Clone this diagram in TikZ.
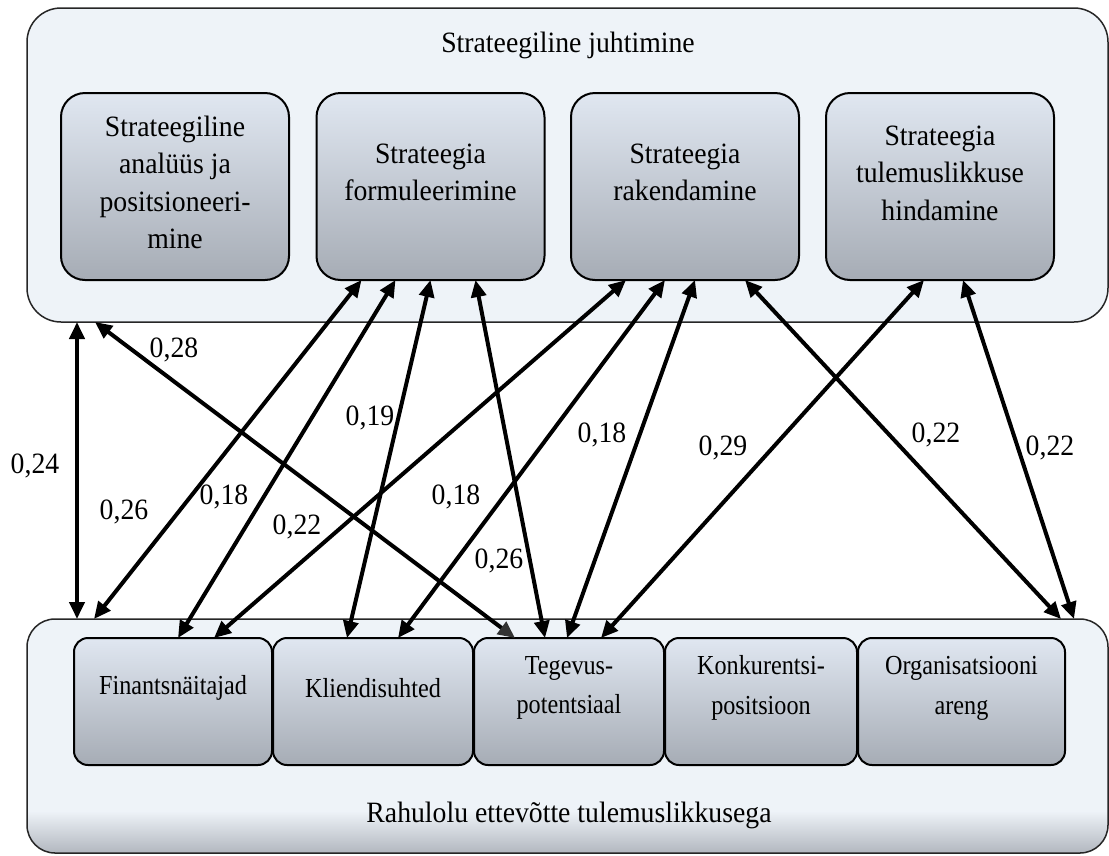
\documentclass[tikz,border=0pt]{standalone}
\usepackage{fontspec}
\setmainfont{Liberation Serif}[FakeStretch=0.94]
\newfontfamily\condserif{Liberation Serif}[FakeStretch=0.88]
\usetikzlibrary{arrows.meta}

\definecolor{panelfill}{HTML}{EEF3F8}
\definecolor{panelgray}{HTML}{B2B7BF}
\definecolor{boxtop}{HTML}{E0E7F1}
\definecolor{boxbot}{HTML}{A6ACB5}

% light panel that turns grey only near its lower edge
\pgfdeclareverticalshading{panelshade}{100bp}{color(0bp)=(panelgray); color(25bp)=(panelgray); color(34bp)=(panelfill); color(100bp)=(panelfill)}

\tikzset{
  panel/.style={draw=black!85, line width=1.5pt, outer sep=0pt, inner sep=0pt, minimum width=1081pt},
  stagebox/.style={draw=black, line width=2pt, rounded corners=24pt, top color=boxtop, bottom color=boxbot,
                   minimum width=228pt, minimum height=187pt, outer sep=0pt, inner sep=0pt},
  areabox/.style={draw=black, line width=2pt, rounded corners=14pt, top color=boxtop, bottom color=boxbot,
                  minimum height=127pt, outer sep=0pt, inner sep=0pt},
  toptext/.style={font=\fontsize{29.5}{37.5}\selectfont, align=center, inner sep=0pt},
  bottext/.style={font=\condserif\fontsize{27.5}{39.5}\selectfont, align=center, inner sep=0pt},
  paneltext/.style={font=\fontsize{29.5}{34}\selectfont, inner sep=0pt},
  weight/.style={font=\fontsize{29.5}{34}\selectfont, inner sep=0pt},
  link/.style={line width=4pt, >={Triangle[length=17pt,width=15pt]}, <->},
}

\begin{document}
\begin{tikzpicture}[x=1pt, y=-1pt]
\useasboundingbox (0,0) rectangle (1109,855);

% outer panels
\node[panel, fill=panelfill, rounded corners=34pt, minimum height=314pt] (T) at (567.5,165) {};
\node[panel, shading=panelshade, rounded corners=28pt, minimum height=234pt] (B) at (567.5,736) {};
\node[paneltext] (Tlabel) at (568,45) {Strateegiline juhtimine};
\node[paneltext] (Blabel) at (569,815) {Rahulolu ettevõtte tulemuslikkusega};

% strategy stages
\node[stagebox] (t1) at (175,186.5) {};
\node[stagebox] (t2) at (430.5,186.5) {};
\node[stagebox] (t3) at (685,186.5) {};
\node[stagebox] (t4) at (940,186.5) {};
\node[toptext] (t1text) at ([yshift=4pt]t1.center) {Strateegiline\\analüüs ja\\positsioneeri-\\mine};
\node[toptext] (t2text) at ([yshift=14pt]t2.center) {Strateegia\\formuleerimine};
\node[toptext] (t3text) at ([yshift=14pt]t3.center) {Strateegia\\rakendamine};
\node[toptext] (t4text) at ([yshift=13.5pt]t4.center) {Strateegia\\tulemuslikkuse\\hindamine};

% performance areas
\node[areabox, minimum width=198pt] (b1) at (173,701.5) {};
\node[areabox, minimum width=200pt] (b2) at (373,701.5) {};
\node[areabox, minimum width=190pt] (b3) at (569,701.5) {};
\node[areabox, minimum width=192pt] (b4) at (761,701.5) {};
\node[areabox, minimum width=207pt] (b5) at (961.5,701.5) {};
\node[bottext] (b1text) at ([yshift=13.5pt]b1.center) {Finantsnäitajad};
\node[bottext] (b2text) at ([yshift=13.5pt]b2.center) {Kliendisuhted};
\node[bottext] (b3text) at ([yshift=13.5pt]b3.center) {Tegevus-\\potentsiaal};
\node[bottext] (b4text) at ([yshift=13.5pt]b4.center) {Konkurentsi-\\positsioon};
\node[bottext] (b5text) at ([yshift=13pt]b5.center) {Organisatsiooni\\areng};

% correlations
\draw[link] ([xshift=50pt]T.south west) -- ([xshift=50pt]B.north west);
\draw[line width=4pt, {Triangle[length=17pt,width=15pt]}-{Triangle[length=17pt,width=15pt,color=black!80]}]
  ([xshift=68pt]T.south west) -- ([xshift=41pt]b3.north west);
\draw[link] ([xshift=67pt]B.north west) -- ([xshift=45pt]t2.south west);
\draw[link] ([xshift=104pt]b1.north west) -- ([xshift=79pt]t2.south west);
\draw[link] ([xshift=114pt]t2.south west) -- ([xshift=74pt]b2.north west);
\draw[link] ([xshift=159pt]t2.south west) -- ([xshift=71pt]b3.north west);
\draw[link] ([xshift=55pt]t3.south west) -- ([xshift=140pt]b1.north west);
\draw[link] ([xshift=94pt]t3.south west) -- ([xshift=125pt]b2.north west);
\draw[link] ([xshift=124pt]t3.south west) -- ([xshift=93pt]b3.north west);
\draw[link] ([xshift=174pt]t3.south west) -- ([xshift=-47pt]B.north east);
\draw[link] ([xshift=98pt]t4.south west) -- ([xshift=127pt]b3.north west);
\draw[link] ([xshift=137pt]t4.south west) -- ([xshift=-34pt]B.north east);

% correlation values
\node[weight] (w1) at (35,466) {0,24};
\node[weight] (w2) at (174,350) {0,28};
\node[weight] (w3) at (124,512) {0,26};
\node[weight] (w4) at (224,497) {0,18};
\node[weight] (w5) at (370,418) {0,19};
\node[weight] (w6) at (297,527) {0,22};
\node[weight] (w7) at (456,497) {0,18};
\node[weight] (w8) at (499,561) {0,26};
\node[weight] (w9) at (602,435) {0,18};
\node[weight] (w10) at (723,448) {0,29};
\node[weight] (w11) at (936,435) {0,22};
\node[weight] (w12) at (1050,448) {0,22};
\end{tikzpicture}
\end{document}
